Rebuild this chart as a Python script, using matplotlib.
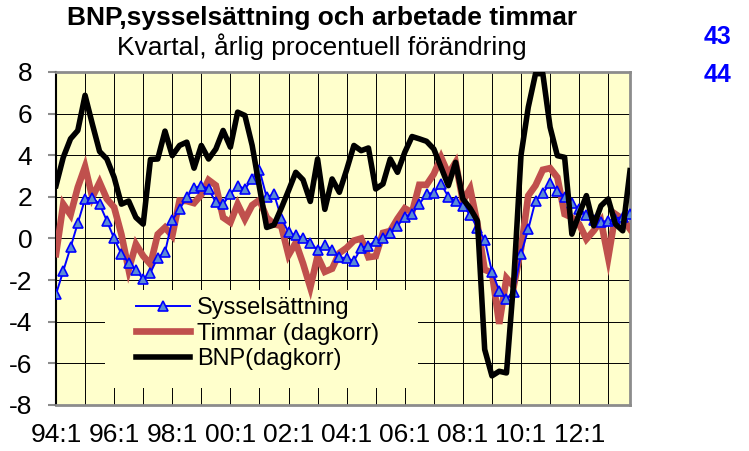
import numpy as np
import matplotlib
matplotlib.use('Agg')
import matplotlib.pyplot as plt
from matplotlib.patches import Rectangle

plt.rcParams['font.family'] = ['Liberation Sans', 'DejaVu Sans']

# Kvartal 94:1 .. 13:4, årlig procentuell förändring
sysselsattning = [
    -2.68, -1.56, -0.43, 0.74, 1.9, 1.95, 1.65, 0.85, 0.0, -0.75,
    -1.16, -1.5, -1.96, -1.64, -0.92, -0.67, 0.88, 1.41, 1.98, 2.43,
    2.54, 2.38, 1.73, 1.65, 2.14, 2.54, 2.38, 2.86, 3.29, 1.98,
    2.14, 1.0, 0.29, 0.15, 0.03, -0.22, -0.55, -0.3, -0.57, -0.9,
    -0.95, -1.08, -0.45, -0.35, -0.11, 0.0, 0.25, 0.6, 1.05, 1.2,
    1.65, 2.14, 2.2, 2.62, 2.0, 1.82, 1.57, 1.15, 0.5, -0.05,
    -1.6, -2.5, -2.9, -2.55, -0.75, 0.45, 1.82, 2.17, 2.65, 2.3,
    2.0, 1.7, 1.4, 1.15, 0.9, 0.8, 0.85, 0.95, 1.05, 1.2,
]
timmar = [
    -0.75, 1.65, 1.14, 2.46, 3.45, 1.98, 2.7, 1.9, 1.5, 0.2,
    -1.5, -0.27, -0.84, -1.24, 0.2, 0.53, 0.13, 1.82, 1.8, 1.7,
    2.1, 2.81, 2.55, 1.01, 0.77, 1.65, 0.93, 1.6, 1.85, 1.01,
    0.69, 0.6, -0.8, -0.2, -1.2, -2.35, -0.85, -1.6, -1.45, -0.7,
    -0.45, -0.1, 0.0, -0.9, -0.85, 0.27, 0.36, 0.95, 1.45, 1.25,
    2.58, 2.58, 3.1, 3.9, 3.1, 3.66, 1.8, 2.4, 0.7, -1.5,
    -1.64, -4.1, -1.9, -2.3, -0.5, 2.06, 2.55, 3.3, 3.38, 2.94,
    1.17, 1.01, 0.69, -0.03, 0.37, 0.85, -0.92, 1.17, 0.93, 0.45,
]
bnp = [
    2.54, 3.9, 4.79, 5.19, 6.88, 5.5, 4.18, 3.82, 2.94, 1.65,
    1.8, 1.01, 0.69, 3.8, 3.82, 5.16, 3.98, 4.47, 4.63, 3.38,
    4.47, 3.82, 4.3, 5.19, 4.39, 6.07, 5.91, 4.47, 2.46, 0.53,
    0.65, 1.45, 2.3, 3.18, 2.82, 1.78, 3.82, 1.4, 2.86, 2.22,
    3.3, 4.47, 4.22, 4.35, 2.38, 2.62, 3.82, 3.18, 4.14, 4.9,
    4.79, 4.67, 4.3, 3.42, 2.54, 3.66, 1.9, 1.45, 0.85, -5.33,
    -6.6, -6.38, -6.46, -2.0, 4.0, 6.31, 7.92, 7.92, 5.35, 3.98,
    3.9, 0.21, 1.17, 2.06, 0.61, 1.57, 1.9, 0.69, 0.37, 3.26,
]
tick_labels = ['94:1', '96:1', '98:1', '00:1', '02:1',
               '04:1', '06:1', '08:1', '10:1', '12:1']
series_names = ['Sysselsättning', 'Timmar (dagkorr)', 'BNP(dagkorr)']

x = np.arange(len(bnp))

fig = plt.figure(figsize=(7.49, 4.51), dpi=100)
ax = fig.add_axes([56 / 749, 1 - 405 / 451, 574 / 749, 333 / 451])
ax.set_facecolor('#FFFFCC')

ax.plot(x, timmar, color='#C0504D', lw=4.8, solid_joinstyle='miter',
        label=series_names[1], zorder=3)
ax.plot(x, sysselsattning, color='#0000FF', lw=1.4, marker='^', ms=7,
        mfc='#5B8BD4', mec='#0000FF', mew=1.2, label=series_names[0], zorder=4)
ax.plot(x, bnp, color='black', lw=4.0, label=series_names[2], zorder=5)

ax.set_xlim(0, len(bnp) - 1)
ax.set_ylim(-8, 8)
ax.set_yticks(np.arange(-8, 9, 2))
ax.set_yticklabels([str(v) for v in range(-8, 9, 2)])
xt = np.arange(0, len(bnp), 4)
ax.set_xticks(xt)
ax.set_xticklabels([tick_labels[k // 2] if k % 2 == 0 else '' for k in range(len(xt))])

ax.set_axisbelow(True)
ax.grid(True, color='black', lw=0.7)

ax.tick_params(axis='y', direction='out', length=6, width=1.5, color='#8C8C8C',
               labelsize=19, pad=11)
ax.tick_params(axis='x', length=0, labelsize=19, pad=13)

for s in ['top', 'right', 'bottom']:
    ax.spines[s].set_color('#8C8C8C')
    ax.spines[s].set_linewidth(2)
ax.spines['left'].set_color('black')
ax.spines['left'].set_linewidth(1.5)

# legend background covers the grid
ax.add_patch(Rectangle((0.085, 0.051), 0.545, 0.294, transform=ax.transAxes,
                       facecolor='#FFFFCC', edgecolor='none', zorder=1))
h, l = ax.get_legend_handles_labels()
order = [1, 0, 2]
leg = ax.legend([h[i] for i in order], [l[i] for i in order],
                loc='upper left', bbox_to_anchor=(136 / 749, 1 - 297 / 451),
                bbox_transform=fig.transFigure, frameon=False, fontsize=17,
                borderpad=0, borderaxespad=0, handlelength=2.3,
                handletextpad=0.3, labelspacing=0.15)
leg.set_zorder(6)

fig.text(322 / 749, 1 - 18 / 451, 'BNP,sysselsättning och arbetade timmar',
         ha='center', va='center', fontsize=19, fontweight='bold')
fig.text(322 / 749, 1 - 47 / 451, 'Kvartal, årlig procentuell förändring',
         ha='center', va='center', fontsize=19)
fig.text(718 / 749, 1 - 37 / 451, '43', ha='center', va='center',
         fontsize=18, fontweight='bold', color='#0000FF')
fig.text(718 / 749, 1 - 75 / 451, '44', ha='center', va='center',
         fontsize=18, fontweight='bold', color='#0000FF')

fig.savefig('out.png', dpi=100)
